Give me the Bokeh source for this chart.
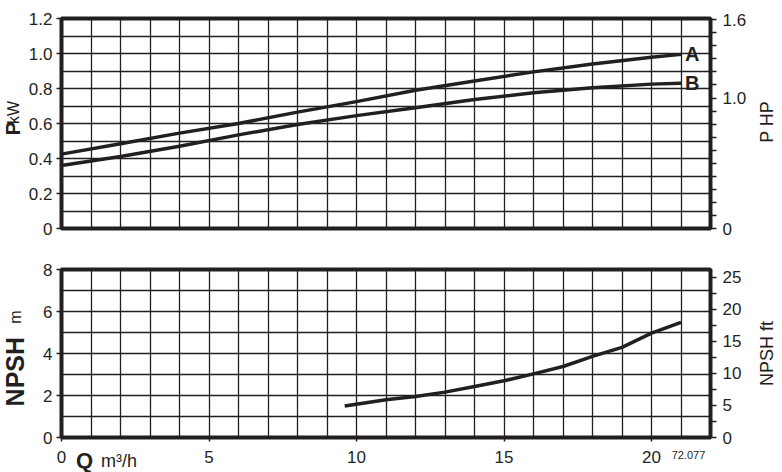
import math
from bokeh.plotting import figure
from bokeh.models import Range1d, LinearAxis, FixedTicker, Label, NumeralTickFormatter
from bokeh.layouts import column, row
from bokeh.embed import file_html
from bokeh.resources import INLINE

# ---- data ----
q_a = [0, 2, 4, 6, 8, 10, 12, 14, 16, 18, 20, 21]
p_a = [0.425, 0.484, 0.545, 0.600, 0.665, 0.725, 0.790, 0.843, 0.895, 0.940, 0.979, 0.995]
q_b = [0, 2, 4, 6, 8, 10, 12, 14, 16, 18, 20, 21]
p_b = [0.360, 0.411, 0.470, 0.535, 0.594, 0.645, 0.690, 0.737, 0.776, 0.804, 0.825, 0.830]
q_npsh = [9.6, 11, 12, 13, 14, 15, 16, 17, 18, 19, 20, 21]
npsh_m = [1.50, 1.80, 1.95, 2.16, 2.43, 2.70, 3.03, 3.38, 3.86, 4.29, 4.97, 5.48]

q_ticks = [0, 5, 10, 15, 20]
q_grid = list(range(0, 23))
kw_ticks = [0, 0.2, 0.4, 0.6, 0.8, 1.0, 1.2]
kw_grid = [0, 0.1, 0.2, 0.3, 0.4, 0.5, 0.6, 0.7, 0.8, 0.9, 1.0, 1.1, 1.2]
hp_ticks = [0, 1.0, 1.6]
hp_minor = [0.1, 0.2, 0.3, 0.4, 0.5, 0.6, 0.7, 0.8, 0.9, 1.1, 1.2, 1.3, 1.4, 1.5]
m_ticks = [0, 2, 4, 6, 8]
m_grid = [0, 1, 2, 3, 4, 5, 6, 7, 8]
ft_ticks = [0, 5, 10, 15, 20, 25]
ft_minor = [2.5, 7.5, 12.5, 17.5, 22.5]

Q_MAX = 22
KW_MAX = 1.2
M_MAX = 8
KW_TO_HP = 1.341
M_TO_FT = 3.281

FONT = "Liberation Sans"
INK = "#231f20"
TICK_FS = "17px"

# layout (pixels)
TOTAL_W = 782
RW = 26
H1 = 248                        # top row
H2 = 199                        # bottom row
HS = 472 - H1 - H2              # strip below bottom plot
FRAME_L = 61                    # frame left edge on the page
FRAME_W = 649
PX_PER_Q = FRAME_W / Q_MAX


def style_axis(ax, size=TICK_FS):
    ax.axis_line_color = None
    ax.major_tick_line_color = INK
    ax.major_tick_line_width = 1.5
    ax.minor_tick_line_color = INK
    ax.minor_tick_line_width = 1.5
    ax.major_tick_in = 0
    ax.minor_tick_in = 0
    ax.major_label_text_font = FONT
    ax.major_label_text_font_size = size
    ax.major_label_text_color = INK


def base(lw, h, top, bottom, ymax, x_range):
    mw = TOTAL_W - lw - RW
    p = figure(width=mw, height=h, x_range=x_range, y_range=Range1d(0, ymax),
               output_backend="svg", toolbar_location=None,
               min_border_left=FRAME_L - lw, min_border_right=mw - (FRAME_L - lw) - FRAME_W,
               min_border_top=top, min_border_bottom=bottom)
    p.outline_line_color = INK
    p.outline_line_width = 4
    p.background_fill_color = "white"
    p.border_fill_color = "white"
    p.xgrid.ticker = FixedTicker(ticks=q_grid)
    p.xgrid.grid_line_color = INK
    p.xgrid.grid_line_width = 1.3
    p.ygrid.grid_line_color = INK
    p.ygrid.grid_line_width = 1.3
    p.xaxis.visible = False
    return p


def text_fig(w, h, x_range=None):
    f = figure(width=w, height=h,
               x_range=x_range if x_range is not None else Range1d(0, w),
               y_range=Range1d(0, h), output_backend="svg", toolbar_location=None,
               min_border=0, x_axis_location=None, y_axis_location=None)
    f.outline_line_color = None
    f.grid.visible = False
    f.background_fill_color = "white"
    f.border_fill_color = "white"
    return f


def lab(f, x, y, text, size, bold=False, angle=0.0, align="center"):
    # (x, y) is the centre of the text box
    f.add_layout(Label(x=x, y=y, text=text, angle=angle, text_font=FONT, text_font_size=size,
                       text_font_style="bold" if bold else "normal", text_color=INK,
                       text_align=align, text_baseline="middle"))


UP = math.pi / 2
q_range = Range1d(0, Q_MAX)

# ---------------- top figure ----------------
LW1 = 24
p1 = base(LW1, H1, 18, 20, KW_MAX, q_range)
p1.ygrid.ticker = FixedTicker(ticks=kw_grid)
ya = p1.yaxis[0]
ya.ticker = FixedTicker(ticks=kw_ticks)
ya.formatter = NumeralTickFormatter(format="0.0")
ya.major_label_overrides = {0: "0"}
ya.major_tick_out = 5
ya.major_label_standoff = 4
style_axis(ya)

p1.extra_y_ranges = {"hp": Range1d(0, KW_MAX * KW_TO_HP)}
ra = LinearAxis(y_range_name="hp", ticker=FixedTicker(ticks=hp_ticks, minor_ticks=hp_minor),
                formatter=NumeralTickFormatter(format="0.0"))
ra.major_label_overrides = {0: "0"}
ra.major_tick_out = 6
ra.minor_tick_out = 6
ra.major_label_standoff = 6
style_axis(ra)
p1.add_layout(ra, "right")

p1.line(q_a, p_a, line_color=INK, line_width=3.5, line_join="round")
p1.line(q_b, p_b, line_color=INK, line_width=3.5, line_join="round")

# curve names, placed just right of the curve ends
lab(p1, q_a[-1] + 4 / PX_PER_Q, p_a[-1], "A", "20px", bold=True, align="left")
lab(p1, q_b[-1] + 4 / PX_PER_Q, p_b[-1], "B", "20px", bold=True, align="left")

l1 = text_fig(LW1, H1)
lab(l1, 12, H1 - 130, "P", "21px", bold=True, angle=UP)
lab(l1, 13, H1 - 111, "kW", "16px", angle=UP)
r1 = text_fig(RW, H1)
lab(r1, 10, H1 - 122, "P HP", "18px", angle=UP)

# ---------------- bottom figure ----------------
LW2 = 29
p2 = base(LW2, H2, 21, 10, M_MAX, q_range)
p2.ygrid.ticker = FixedTicker(ticks=m_grid)
ya2 = p2.yaxis[0]
ya2.ticker = FixedTicker(ticks=m_ticks)
ya2.major_tick_out = 5
ya2.major_label_standoff = 4
style_axis(ya2)

# Q tick marks under the frame (their labels are drawn in the strip below)
xa2 = p2.xaxis[0]
xa2.visible = True
xa2.ticker = FixedTicker(ticks=q_ticks)
xa2.major_label_overrides = {t: "" for t in q_ticks}
xa2.major_tick_out = 4
xa2.major_label_standoff = 0
style_axis(xa2)

p2.extra_y_ranges = {"ft": Range1d(0, M_MAX * M_TO_FT)}
ra2 = LinearAxis(y_range_name="ft", ticker=FixedTicker(ticks=ft_ticks, minor_ticks=ft_minor))
ra2.major_tick_out = 6
ra2.minor_tick_out = 6
ra2.major_label_standoff = 6
style_axis(ra2)
p2.add_layout(ra2, "right")

p2.line(q_npsh, npsh_m, line_color=INK, line_width=3.5, line_join="round")

l2 = text_fig(LW2, H2)
lab(l2, 14.5, H2 - (369 - H1), "NPSH", "25px", bold=True, angle=UP)
lab(l2, 14.6, H2 - (304.5 - H1), "m", "16px", angle=UP)
r2 = text_fig(RW, H2)
lab(r2, 10, H2 - (347.5 - H1), "NPSH ft", "18px", angle=UP)

# ---------------- strip with the Q tick labels (frame spans the whole strip) ----------------
s = text_fig(TOTAL_W, HS, x_range=Range1d(-FRAME_L / PX_PER_Q, (TOTAL_W - FRAME_L) / PX_PER_Q))
qa = LinearAxis(ticker=FixedTicker(ticks=q_ticks), fixed_location=HS)
qa.major_tick_out = 0
qa.major_label_standoff = 3
style_axis(qa)
qa.major_tick_line_color = None
s.add_layout(qa, "below")

top_s = H1 + H2
def sy(y_page):
    return top_s + HS - y_page

lab(s, (84 - FRAME_L) / PX_PER_Q, sy(459.5), "Q", "22px", bold=True)
lab(s, (118.5 - FRAME_L) / PX_PER_Q, sy(460), "m³/h", "18px")
lab(s, (688 - FRAME_L) / PX_PER_Q, sy(454), "72.077", "11px")

layout = column(row(l1, p1, r1), row(l2, p2, r2), s)
open("out.html", "w").write(file_html(layout, INLINE))
